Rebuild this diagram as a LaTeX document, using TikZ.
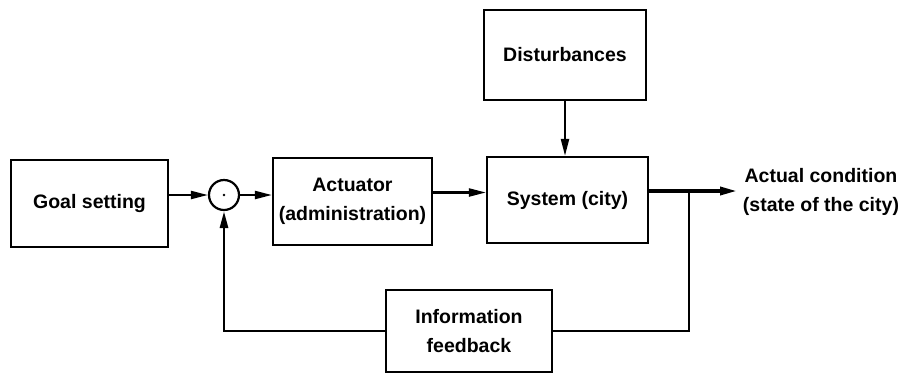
\documentclass[tikz,border=0pt]{standalone}
\usepackage{fontspec}
\setmainfont{Liberation Sans}
\usetikzlibrary{arrows.meta,positioning,calc}

\begin{document}
\begin{tikzpicture}[
  x=1pt, y=-1pt,
  font=\fontsize{19.5}{29}\selectfont\bfseries,
  box/.style={rectangle, draw, line width=2.2pt, align=center, inner sep=0pt},
  arr/.style={-{Triangle[length=17pt,width=8pt]}, line width=2.2pt},
  fbline/.style={line width=2.8pt}
]
  \useasboundingbox (0,0) rectangle (908,376);
  \node[box, minimum width=157pt, minimum height=87pt] (goal) at (89.5,203.5) {Goal setting};
  \node[circle, draw, line width=2.2pt, minimum size=30pt, inner sep=0pt] (sum) at (224,195) {};
  \fill (sum) circle (1.3pt);
  \node[box, minimum width=159pt, minimum height=87pt] (act) at (352.5,201.5) {Actuator\\(administration)};
  \node[box, minimum width=161pt, minimum height=86pt] (sys) at (567.5,200) {System (city)};
  \node[box, minimum width=162pt, minimum height=90pt] (dist) at (565,55) {Disturbances};
  \node[box, minimum width=166pt, minimum height=82pt] (fb) at (469,331) {Information\\feedback};
  \node[align=center] (state) at (821,192) {Actual condition\\(state of the city)};
  \coordinate (br) at (689,191);
  \coordinate (tip) at (737,191);
  \draw[arr] (goal.east |- sum.west) -- (sum.west);
  \draw[arr] (sum.east) -- (act.west |- sum.east);
  \draw[arr] ([yshift=9pt]act.east) -- ([yshift=9pt]act.east -| sys.west);
  \draw[arr] (dist.south) -- (dist.south |- sys.north);
  \draw[arr, line width=3.4pt] ([yshift=9pt]sys.east) -- (tip);
  \draw[fbline] (br) |- (fb.east);
  \draw[arr, line width=2.8pt] (fb.west) -| (sum.south);
\end{tikzpicture}
\end{document}
